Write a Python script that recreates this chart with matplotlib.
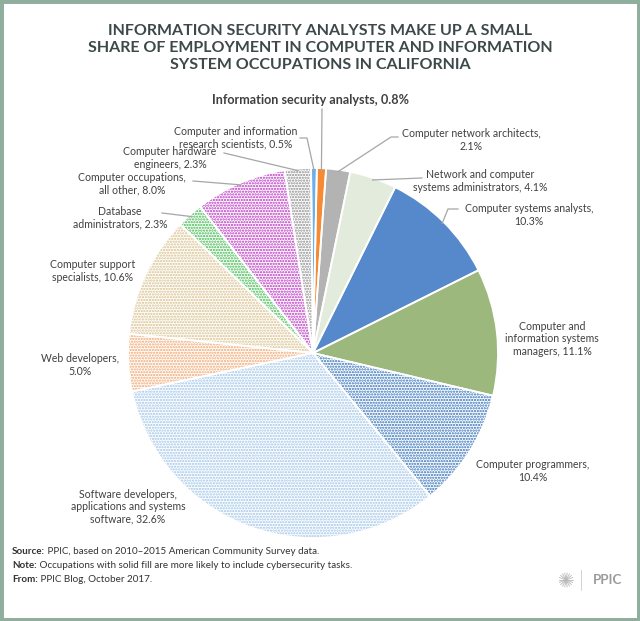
import matplotlib
matplotlib.use("Agg")
import math
import matplotlib.pyplot as plt
from matplotlib.patches import Rectangle

# share of employment, clockwise from the top
jobs = ["Information security analysts", "Computer network architects",
        "Network and computer systems administrators", "Computer systems analysts",
        "Computer and information systems managers", "Computer programmers",
        "Software developers, applications and systems software", "Web developers",
        "Computer support specialists", "Database administrators",
        "Computer occupations, all other", "Computer hardware engineers",
        "Computer and information research scientists"]
shares = [0.8, 2.1, 4.1, 10.3, 11.1, 10.4, 32.6, 5.0, 10.6, 2.3, 8.0, 2.3, 0.5]
solid = [True, True, True, True, True, False, False, False, False, False, False, False, True]
labels = ["Information security analysts, 0.8%",
          "Computer network architects,\n2.1%",
          "Network and computer\nsystems administrators, 4.1%",
          "Computer systems analysts,\n10.3%",
          "Computer and\ninformation systems\nmanagers, 11.1%",
          "Computer programmers,\n10.4%",
          "Software developers,\napplications and systems\nsoftware, 32.6%",
          "Web developers,\n5.0%",
          "Computer support\nspecialists, 10.6%",
          "Database\nadministrators, 2.3%",
          "Computer occupations,\nall other, 8.0%",
          "Computer hardware\nengineers, 2.3%",
          "Computer and information\nresearch scientists, 0.5%"]
colours = ["#f68b33", "#b3b3b3", "#e3ecdc", "#5589cc", "#9cb87c", "#2f6fb8",
           "#9fc4e8", "#f0a56e", "#d8bf8a", "#3cb84a", "#b82fc0", "#8c8c8c", "#6bb0ec"]

W, H = 640, 621
CX, CY, R = 313, 353, 185
START = 88.8


def P(x, y):  # picture pixels -> axes units (y up)
    return x, H - y


# label layout in pixels: centre of text block, leader elbows (None = no leader)
label_pos = [(310, 100), (471, 140), (480, 181), (529, 215), (552, 339), (533, 471),
             (128, 507), (80, 365), (93, 271), (120, 218), (132, 184), (170, 158), (236, 138)]
leaders = [[(322, 109)], [(398, 137), (391, 137)], [(422, 178)], [(458, 209), (448, 209)],
           None, None, None, None, None, [(162, 213)], [(193, 181)], [(224, 153)],
           [(300, 138), (307, 138)]]

plt.rcParams["font.family"] = ["Lato", "DejaVu Sans"]
plt.rcParams["hatch.linewidth"] = 1.1
fig = plt.figure(figsize=(W / 100, H / 100), dpi=100)
ax = fig.add_axes([0, 0, 1, 1])

wedges, _ = ax.pie(shares, colors=colours, startangle=START, counterclock=False,
                   center=P(CX, CY), radius=R, wedgeprops=dict(linewidth=0))
for w, c, s in zip(wedges, colours, solid):
    if not s:
        w.set_facecolor("white")
        w.set_edgecolor(c)
        w.set_hatch("......")
# white gaps between slices
ax.pie(shares, startangle=START, counterclock=False, center=P(CX, CY), radius=R,
       wedgeprops=dict(fill=False, edgecolor="white", linewidth=1.3))

total = sum(shares)
acc = 0
for i, v in enumerate(shares):
    mid = START - (acc + v / 2) / total * 360
    acc += v
    tx, ty = label_pos[i]
    bold = i == 0
    ax.text(*P(tx, ty), labels[i], ha="center", va="center", fontsize=9.1 if bold else 7.6,
            fontweight="bold" if bold else "normal", color="#404040", linespacing=1.15)
    if leaders[i] is not None:
        ex = CX + (R - 2) * math.cos(math.radians(mid))
        ey = CY - (R - 2) * math.sin(math.radians(mid))
        pts = leaders[i] + [(ex, ey)]
        ax.plot([p[0] for p in pts], [H - p[1] for p in pts], color="#a6a6a6", lw=0.9)

ax.set_xlim(0, W)
ax.set_ylim(0, H)
ax.set_aspect("equal")
ax.axis("off")

title = ("INFORMATION SECURITY ANALYSTS MAKE UP A SMALL\n"
         "SHARE OF EMPLOYMENT IN COMPUTER AND INFORMATION\n"
         "SYSTEM OCCUPATIONS IN CALIFORNIA")
ax.text(*P(320, 48), title, ha="center", va="center", fontsize=11.5, fontweight="bold",
        color="#3d4949", linespacing=1.25)

# footer
renderer = fig.canvas.get_renderer()
footer = [("Source:", " PPIC, based on 2010\u20132015 American Community Survey data."),
          ("Note:", " Occupations with solid fill are more likely to include cybersecurity tasks."),
          ("From:", " PPIC Blog, October 2017.")]
for k, (b, rest) in enumerate(footer):
    y = 551 + k * 14.5
    t = ax.text(*P(12, y), b, ha="left", va="center", fontsize=7.1, fontweight="bold", color="#333333")
    bb = t.get_window_extent(renderer)
    ax.text(bb.x1, H - y, rest, ha="left", va="center", fontsize=7.1, color="#333333")

# PPIC mark
for a in range(0, 180, 20):
    dx = 7 * math.cos(math.radians(a))
    dy = 7 * math.sin(math.radians(a))
    ax.plot([566 - dx, 566 + dx], [H - 580 - dy, H - 580 + dy], color="#b8b8b8", lw=0.6)
ax.plot([581, 581], [H - 570, H - 590], color="#cccccc", lw=0.6)
ax.text(*P(607, 580), "PPIC", ha="center", va="center", fontsize=9.5, fontweight="bold",
        color="#9a9a9a")

fig.add_artist(Rectangle((0, 0), 1, 1, transform=fig.transFigure, fill=False,
                         edgecolor="#8fae9e", linewidth=5))
fig.savefig("out.png", dpi=100)
